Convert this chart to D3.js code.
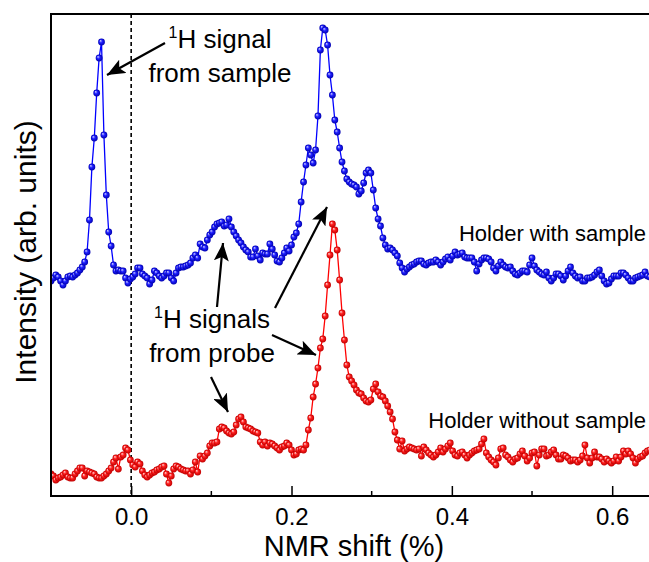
<!DOCTYPE html>
<html>
<head>
<meta charset="utf-8">
<script src="https://cdn.jsdelivr.net/npm/d3@7"></script>
<style>
  body { margin: 0; background: #fff; }
  text { font-family: "Liberation Sans", Arial, sans-serif; }
</style>
</head>
<body>
<div id="chart"></div>
<script>
// NMR shift grid (%)
var shift = [
  -0.100,-0.097,-0.094,-0.091,-0.088,-0.085,-0.082,-0.079,-0.076,-0.073,
  -0.070,-0.067,-0.064,-0.061,-0.058,-0.055,-0.052,-0.049,-0.046,-0.043,
  -0.040,-0.037,-0.034,-0.031,-0.028,-0.025,-0.022,-0.019,-0.016,-0.013,
  -0.010,-0.007,-0.004,-0.001,0.002,0.005,0.008,0.011,0.014,0.017,
  0.020,0.023,0.026,0.029,0.032,0.035,0.038,0.041,0.044,0.047,
  0.050,0.053,0.056,0.059,0.062,0.065,0.068,0.071,0.074,0.077,
  0.080,0.083,0.086,0.089,0.092,0.095,0.098,0.101,0.104,0.107,
  0.110,0.113,0.116,0.119,0.122,0.125,0.128,0.131,0.134,0.137,
  0.140,0.143,0.146,0.149,0.152,0.155,0.158,0.161,0.164,0.167,
  0.170,0.173,0.176,0.179,0.182,0.185,0.188,0.191,0.194,0.197,
  0.200,0.203,0.206,0.209,0.212,0.215,0.218,0.221,0.224,0.227,
  0.230,0.233,0.236,0.239,0.242,0.245,0.248,0.251,0.254,0.257,
  0.260,0.263,0.266,0.269,0.272,0.275,0.278,0.281,0.284,0.287,
  0.290,0.293,0.296,0.299,0.302,0.305,0.308,0.311,0.314,0.317,
  0.320,0.323,0.326,0.329,0.332,0.335,0.338,0.341,0.344,0.347,
  0.350,0.353,0.356,0.359,0.362,0.365,0.368,0.371,0.374,0.377,
  0.380,0.383,0.386,0.389,0.392,0.395,0.398,0.401,0.404,0.407,
  0.410,0.413,0.416,0.419,0.422,0.425,0.428,0.431,0.434,0.437,
  0.440,0.443,0.446,0.449,0.452,0.455,0.458,0.461,0.464,0.467,
  0.470,0.473,0.476,0.479,0.482,0.485,0.488,0.491,0.494,0.497,
  0.500,0.503,0.506,0.509,0.512,0.515,0.518,0.521,0.524,0.527,
  0.530,0.533,0.536,0.539,0.542,0.545,0.548,0.551,0.554,0.557,
  0.560,0.563,0.566,0.569,0.572,0.575,0.578,0.581,0.584,0.587,
  0.590,0.593,0.596,0.599,0.602,0.605,0.608,0.611,0.614,0.617,
  0.620,0.623,0.626,0.629,0.632,0.635,0.638,0.641,0.644,0.647,
  0.650
];

// Holder with sample (arb. units)
var withSample = [
  215,218,221,219,215,211,215,219,220,219,
  221,223,226,229,234,244,276,329,358,403,
  438,454,361,301,264,250,231,225,226,225,
  225,218,213,217,219,222,228,228,222,220,
  218,212,216,225,223,220,218,220,223,223,
  218,215,223,228,229,229,230,231,233,238,
  241,238,252,249,248,256,261,264,269,272,
  273,274,270,271,277,269,264,260,256,253,
  249,246,244,239,239,247,240,236,243,242,
  242,252,247,241,235,234,238,243,248,245,
  251,259,263,272,294,314,331,348,341,333,
  346,380,446,468,466,451,421,401,376,364,
  348,334,325,317,314,312,311,309,302,305,
  313,323,326,323,306,288,277,270,258,251,
  247,248,246,243,240,233,228,224,227,229,
  231,232,234,235,235,232,231,233,234,234,
  236,234,231,234,237,239,236,240,244,241,
  242,243,239,238,238,238,234,225,232,236,
  238,238,237,234,228,225,230,234,231,229,
  228,229,225,222,221,223,225,225,224,231,
  238,230,226,224,222,221,224,218,215,218,
  222,222,220,216,220,225,229,223,220,218,
  219,215,215,218,218,219,221,224,226,220,
  215,212,213,217,220,220,220,223,223,221,
  218,215,215,218,219,220,221,224,220,219,
  221
];

// Holder without sample (arb. units)
var withoutSample = [
  22,20,16,18,19,21,23,19,18,18,
  22,25,28,28,20,25,24,23,22,19,
  18,18,20,22,25,28,34,38,27,39,
  41,48,46,36,31,29,34,32,25,21,
  19,21,23,24,26,27,29,30,22,13,
  20,27,30,29,27,26,25,25,22,26,
  34,24,40,37,40,43,50,53,53,54,
  67,69,68,65,63,62,64,71,77,79,
  74,69,68,67,65,64,63,54,51,54,
  50,53,52,50,48,46,49,50,53,51,
  46,41,42,46,47,46,51,66,78,99,
  112,128,148,157,180,211,241,272,266,246,
  216,183,156,131,119,115,111,106,103,102,
  98,95,94,96,107,112,104,100,99,95,
  90,84,77,64,56,47,55,45,47,49,
  48,47,46,47,40,49,46,43,41,39,
  41,44,48,44,47,50,53,45,41,40,
  43,44,41,38,41,43,45,46,47,52,
  57,43,39,36,34,31,38,47,48,41,
  39,36,34,37,38,42,45,40,35,38,
  43,44,30,41,47,47,40,41,44,46,
  41,37,37,41,40,38,35,36,36,34,
  36,40,51,38,33,38,44,39,39,37,
  34,37,35,33,35,39,35,39,45,42,
  45,42,38,33,37,39,40,43,45,46,
  47
];

var xMajor = [0.0, 0.2, 0.4, 0.6];
var xMinor = [0.1, 0.3, 0.5];

var W = 649, H = 562;
var mLeft = 51, mTop = 14, mBottom = 496;

var svg = d3.select("#chart").append("svg")
  .attr("width", W).attr("height", H);

var x = d3.scaleLinear().domain([-0.1, 0.7]).range([mLeft, mLeft + 0.8 * 801.7]);
var y = d3.scaleLinear().domain([0, 482]).range([mBottom, mTop]);

var defs = svg.append("defs");
defs.append("clipPath").attr("id", "plotClip")
  .append("rect").attr("x", mLeft).attr("y", mTop - 5)
  .attr("width", W - mLeft).attr("height", mBottom - mTop + 5);

function ballGradient(id, light, mid, dark) {
  var g = defs.append("radialGradient").attr("id", id)
    .attr("cx", "50%").attr("cy", "50%").attr("r", "50%")
    .attr("fx", "32%").attr("fy", "30%");
  g.append("stop").attr("offset", "0%").attr("stop-color", light);
  g.append("stop").attr("offset", "45%").attr("stop-color", mid);
  g.append("stop").attr("offset", "100%").attr("stop-color", dark);
}
ballGradient("ballBlue", "#d8d8ff", "#2020ff", "#0000b0");
ballGradient("ballRed", "#ffe0e0", "#ff2020", "#c00000");

defs.append("marker").attr("id", "head")
  .attr("markerUnits", "userSpaceOnUse")
  .attr("viewBox", "0 0 18 15").attr("refX", 18).attr("refY", 7.5)
  .attr("markerWidth", 18).attr("markerHeight", 15)
  .attr("orient", "auto")
  .append("path").attr("d", "M0,0 L18,7.5 L0,15 L4,7.5 Z").attr("fill", "#000");

// dashed zero line
svg.append("line")
  .attr("x1", x(0)).attr("x2", x(0))
  .attr("y1", mTop).attr("y2", mBottom)
  .attr("stroke", "#000").attr("stroke-width", 1.6)
  .attr("stroke-dasharray", "4,3");

var plot = svg.append("g").attr("clip-path", "url(#plotClip)");

function drawSeries(vals, color, grad) {
  var pts = shift.map(function (s, i) { return [s, vals[i]]; });
  plot.append("path")
    .datum(pts)
    .attr("fill", "none")
    .attr("stroke", color)
    .attr("stroke-width", 1.3)
    .attr("d", d3.line()
      .x(function (d) { return x(d[0]); })
      .y(function (d) { return y(d[1]); }));
  plot.append("g").selectAll("circle")
    .data(pts).enter().append("circle")
    .attr("cx", function (d) { return x(d[0]); })
    .attr("cy", function (d) { return y(d[1]); })
    .attr("r", 3.4)
    .attr("fill", "url(#" + grad + ")");
}
drawSeries(withSample, "#0000ff", "ballBlue");
drawSeries(withoutSample, "#ff0000", "ballRed");

// axes
var xAxis = svg.append("g")
  .attr("transform", "translate(0," + mBottom + ")")
  .call(d3.axisBottom(x).tickValues(xMajor).tickSize(-10).tickPadding(12)
    .tickFormat(d3.format(".1f")));
xAxis.select(".domain").remove();
xAxis.selectAll(".tick line").attr("stroke-width", 1.5);
xAxis.selectAll(".tick text")
  .attr("font-size", 24).attr("font-family", "Liberation Sans, Arial, sans-serif")
  .attr("fill", "#000");

svg.append("g").selectAll("line").data(xMinor).enter().append("line")
  .attr("x1", function (d) { return x(d); }).attr("x2", function (d) { return x(d); })
  .attr("y1", mBottom).attr("y2", mBottom - 5)
  .attr("stroke", "#000").attr("stroke-width", 1.5);

svg.append("line").attr("x1", mLeft).attr("x2", W).attr("y1", mBottom).attr("y2", mBottom)
  .attr("stroke", "#000").attr("stroke-width", 2);
svg.append("line").attr("x1", mLeft).attr("x2", W).attr("y1", mTop).attr("y2", mTop)
  .attr("stroke", "#000").attr("stroke-width", 2);
svg.append("line").attr("x1", mLeft).attr("x2", mLeft).attr("y1", mTop - 1).attr("y2", mBottom + 1)
  .attr("stroke", "#000").attr("stroke-width", 2);

// axis titles
svg.append("text")
  .attr("x", (mLeft + W) / 2 + 4).attr("y", 556)
  .attr("text-anchor", "middle").attr("font-size", 29)
  .text("NMR shift (%)");
svg.append("text")
  .attr("transform", "translate(36," + ((mTop + mBottom) / 2 - 3) + ") rotate(-90)")
  .attr("text-anchor", "middle").attr("font-size", 30)
  .text("Intensity (arb. units)");

// annotations
function label(xc, yb, lines) {
  lines.forEach(function (ln, k) {
    var t = svg.append("text").attr("x", xc).attr("y", yb + k * 34)
      .attr("text-anchor", "middle").attr("font-size", 26);
    if (ln.sup) {
      t.append("tspan").attr("font-size", 16).attr("dy", -10).text(ln.sup);
      t.append("tspan").attr("dy", 10).text(ln.text);
    } else {
      t.text(ln.text);
    }
  });
}
label(220, 48, [{ sup: "1", text: "H signal" }, { text: "from sample" }]);
label(212, 328, [{ sup: "1", text: "H signals" }, { text: "from probe" }]);

svg.append("text").attr("x", 646).attr("y", 241).attr("text-anchor", "end")
  .attr("font-size", 22).text("Holder with sample");
svg.append("text").attr("x", 646).attr("y", 428).attr("text-anchor", "end")
  .attr("font-size", 22).text("Holder without sample");

var arrows = [
  [165, 43, 107, 75],
  [217, 307, 223, 243],
  [275, 308, 327, 207],
  [272, 335, 316, 355],
  [211, 377, 228, 412]
];
svg.append("g").selectAll("line").data(arrows).enter().append("line")
  .attr("x1", function (d) { return d[0]; }).attr("y1", function (d) { return d[1]; })
  .attr("x2", function (d) { return d[2]; }).attr("y2", function (d) { return d[3]; })
  .attr("stroke", "#000").attr("stroke-width", 2.2)
  .attr("marker-end", "url(#head)");
</script>
</body>
</html>
